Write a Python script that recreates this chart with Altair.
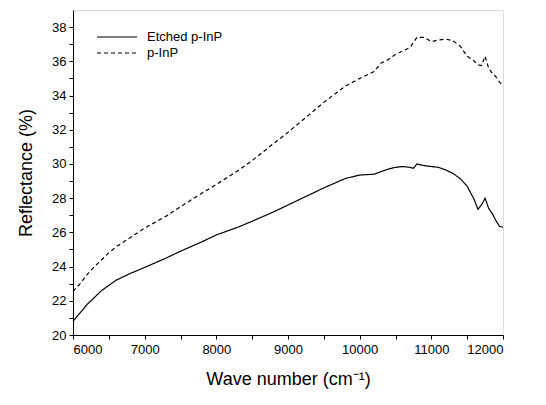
import altair as alt
import pandas as pd

# Wave number (cm^-1)
wave = [6000, 6100, 6200, 6300, 6400, 6500, 6600, 6800, 7000, 7300, 7500, 7800,
        8000, 8300, 8500, 8800, 9000, 9300, 9500, 9800, 10000, 10200, 10300, 10400,
        10500, 10600, 10700, 10750, 10800, 10900, 11000, 11100, 11200, 11300, 11400,
        11500, 11600, 11650, 11700, 11750, 11800, 11850, 11900, 11950, 12000]

etched = [20.8, 21.3, 21.8, 22.2, 22.6, 22.9, 23.2, 23.6, 23.95, 24.5, 24.9, 25.45,
          25.85, 26.3, 26.65, 27.2, 27.6, 28.2, 28.6, 29.15, 29.35, 29.4, 29.55, 29.7,
          29.8, 29.85, 29.8, 29.75, 30.0, 29.9, 29.85, 29.8, 29.65, 29.45, 29.15,
          28.7, 27.9, 27.35, 27.6, 28.0, 27.4, 27.1, 26.7, 26.35, 26.3]

plain = [22.55, 23.0, 23.55, 24.0, 24.4, 24.8, 25.15, 25.7, 26.25, 26.95, 27.5, 28.3,
         28.8, 29.6, 30.2, 31.2, 31.85, 32.9, 33.6, 34.55, 35.0, 35.4, 35.9, 36.1,
         36.4, 36.6, 36.8, 37.1, 37.4, 37.4, 37.15, 37.25, 37.3, 37.2, 36.9,
         36.3, 36.0, 35.8, 35.75, 36.3, 35.6, 35.3, 35.1, 34.8, 34.55]

series_names = ["Etched p-InP", "p-InP"]

x_ticks = list(range(6000, 12001, 500))
y_ticks = list(range(20, 39, 1))

df = pd.concat([
    pd.DataFrame({"wave": wave, "R": etched, "series": series_names[0]}),
    pd.DataFrame({"wave": wave, "R": plain, "series": series_names[1]}),
])

font = "Liberation Sans"

common = dict(domainColor="black", tickColor="black", labelColor="black", titleColor="black",
              labelFont=font, titleFont=font, titleFontWeight="normal", grid=False,
              domainWidth=1, tickWidth=1, ticks=True, labelFontSize=13, titleFontSize=18)

chart = alt.Chart(df).mark_line(color="black", strokeWidth=1.2).encode(
    x=alt.X("wave:Q",
            scale=alt.Scale(domain=[6000, 12000], nice=False, zero=False),
            axis=alt.Axis(values=x_ticks, format="d",
                          labelExpr="datum.value % 1000 === 0 ? datum.label : ''",
                          tickSize=4,
                          title="Wave number (cm⁻¹)", titlePadding=14,
                          labelPadding=4, **common)),
    y=alt.Y("R:Q",
            scale=alt.Scale(domain=[20, 39], nice=False, zero=False),
            axis=alt.Axis(values=y_ticks,
                          labelExpr="datum.value % 2 === 0 ? datum.label : ''",
                          tickSize=4,
                          title="Reflectance (%)", titlePadding=16,
                          labelPadding=3, **common)),
    strokeDash=alt.StrokeDash("series:N",
                              scale=alt.Scale(domain=series_names, range=[[1, 0], [4, 3]]),
                              legend=alt.Legend(title=None, orient="none", legendX=23, legendY=20,
                                                symbolType="stroke", symbolSize=1600,
                                                symbolStrokeColor="black", symbolStrokeWidth=1.2,
                                                labelFontSize=13, labelFont=font,
                                                clipHeight=14, rowPadding=2, labelOffset=9)),
    order="wave:Q",
).properties(
    width=430, height=325,
    autosize=alt.AutoSizeParams(type="none"),
    padding={"left": 65, "top": 2, "right": 30, "bottom": 60},
).configure_view(
    stroke="black", strokeWidth=1,
).configure(background="white")

chart.save("out.html", embed_options={"renderer": "svg", "actions": False})
